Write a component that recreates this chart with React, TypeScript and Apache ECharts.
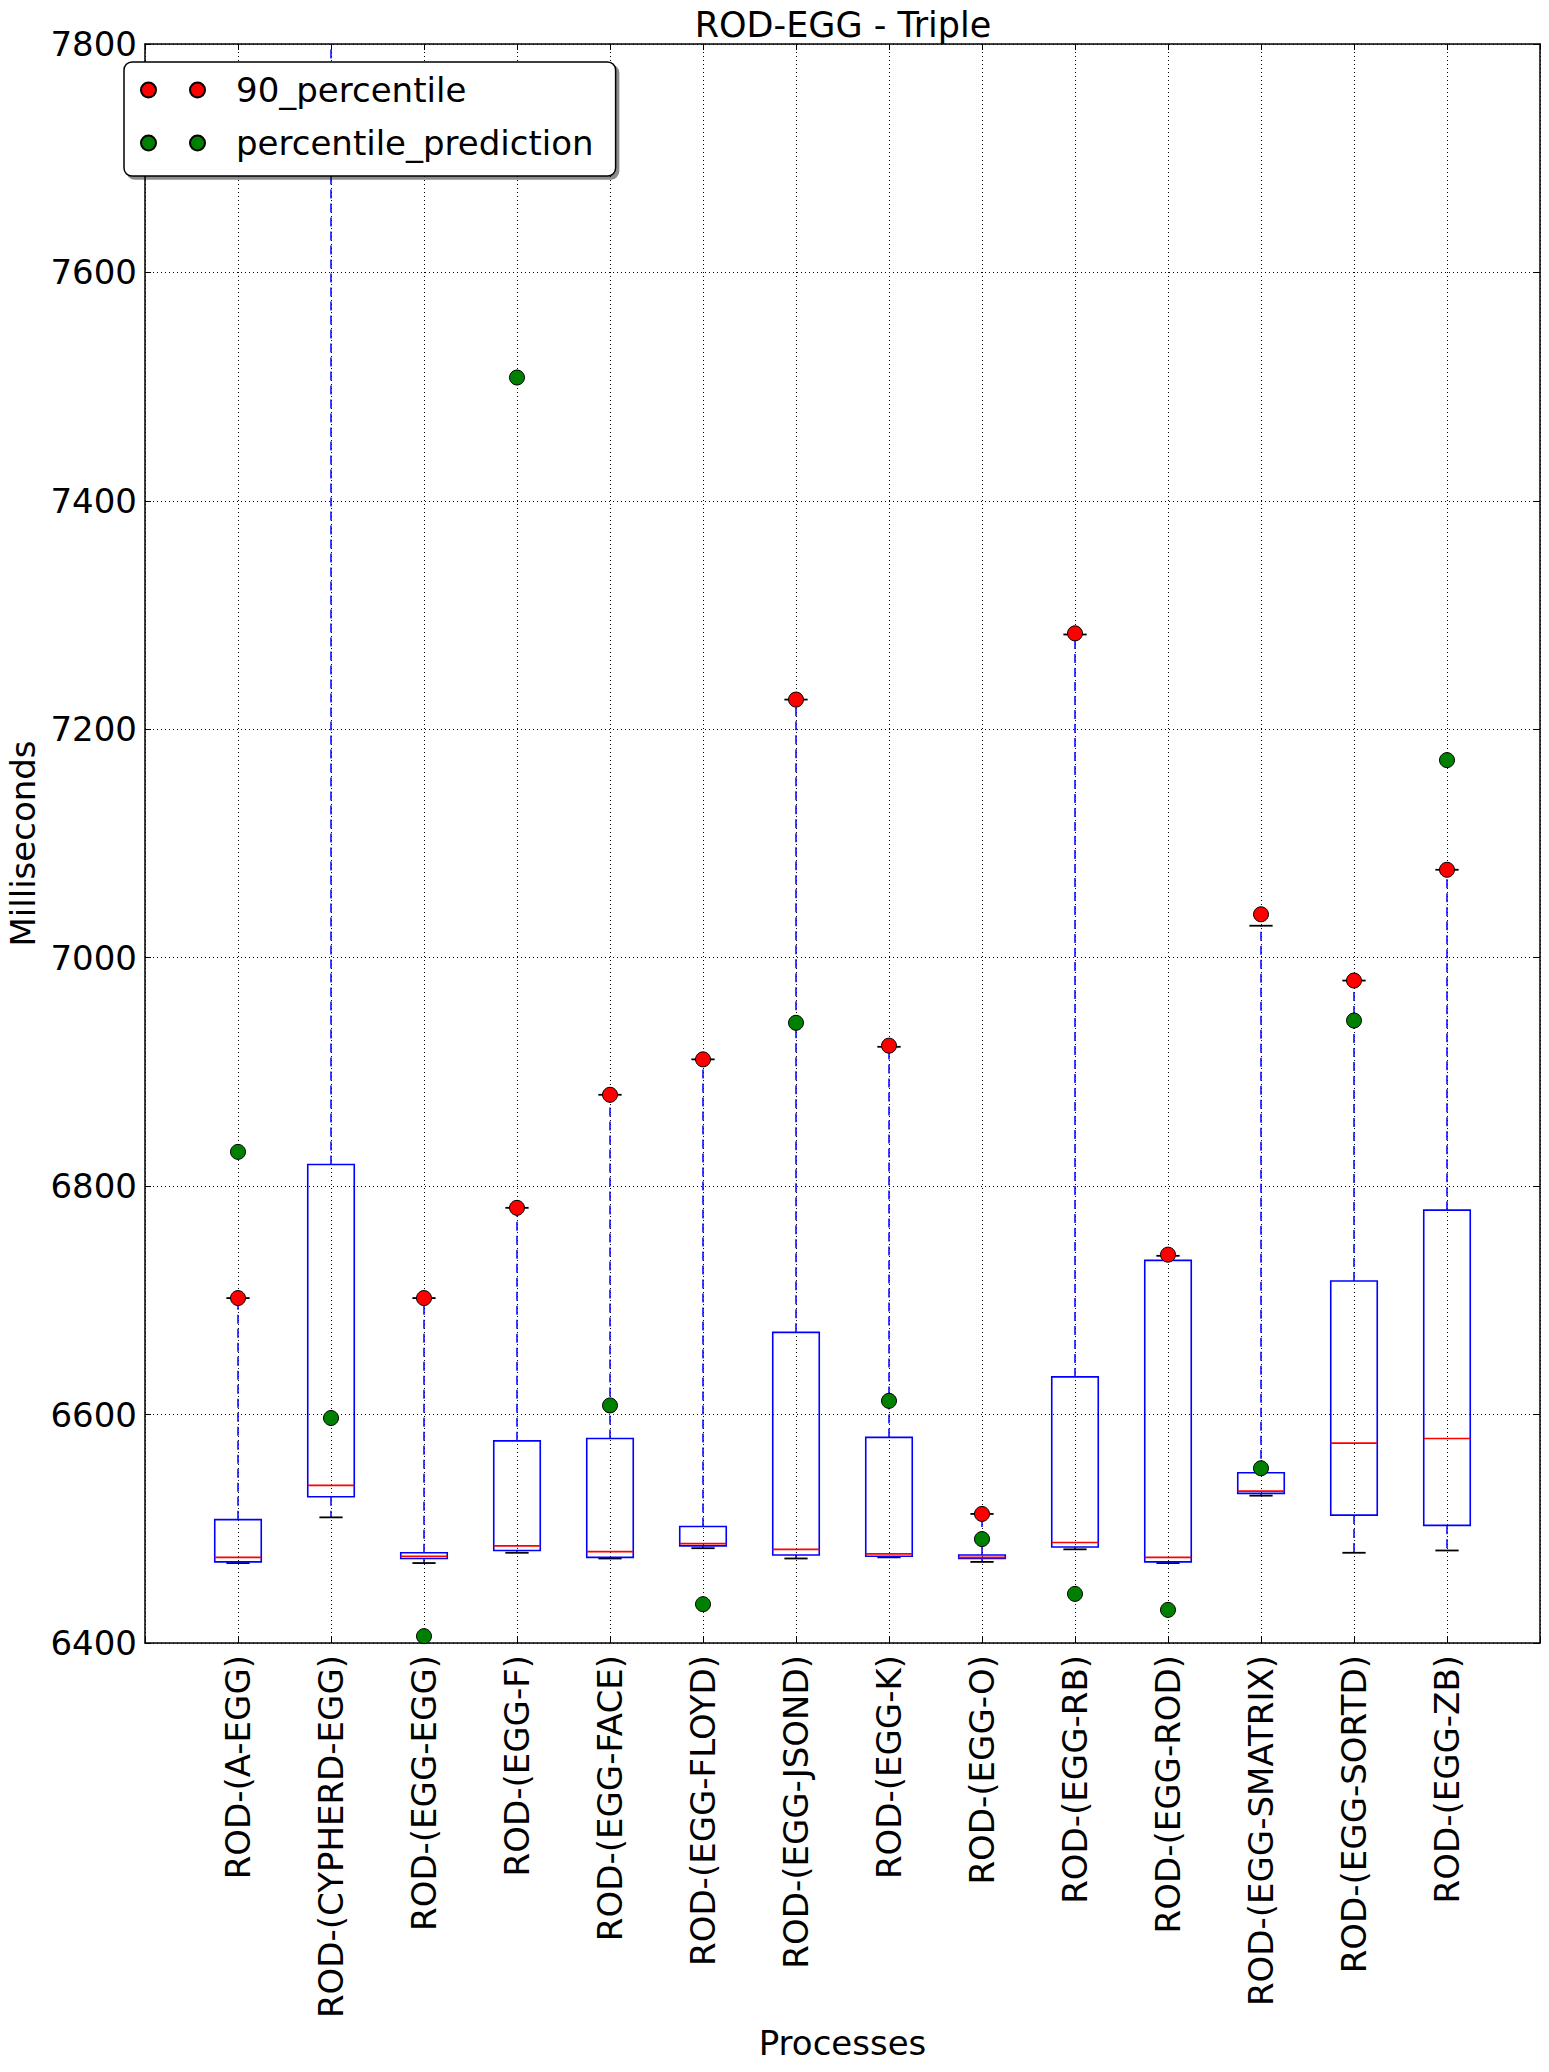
import React, { useEffect, useRef } from "react";
import * as echarts from "echarts";

const categories = [
  "ROD-(A-EGG)",
  "ROD-(CYPHERD-EGG)",
  "ROD-(EGG-EGG)",
  "ROD-(EGG-F)",
  "ROD-(EGG-FACE)",
  "ROD-(EGG-FLOYD)",
  "ROD-(EGG-JSOND)",
  "ROD-(EGG-K)",
  "ROD-(EGG-O)",
  "ROD-(EGG-RB)",
  "ROD-(EGG-ROD)",
  "ROD-(EGG-SMATRIX)",
  "ROD-(EGG-SORTD)",
  "ROD-(EGG-ZB)",
];

const whiskerLow = [6470, 6510, 6470, 6479, 6474, 6483, 6474, 6475, 6471, 6482, 6470, 6529, 6479, 6481];
const quartile1 = [6471, 6528, 6474, 6481, 6475, 6485, 6477, 6476, 6474, 6484, 6471, 6531, 6512, 6503];
const medians = [6475, 6538, 6476, 6485, 6480, 6487, 6482, 6478, 6475, 6488, 6475, 6533, 6575, 6579];
const quartile3 = [6508, 6819, 6479, 6577, 6579, 6502, 6672, 6580, 6477, 6633, 6735, 6549, 6717, 6779];
const whiskerHigh = [6702, 8000, 6702, 6781, 6880, 6911, 7226, 6922, 6513, 7283, 6739, 7028, 6980, 7077];
const percentile90 = [6702, 8000, 6702, 6781, 6880, 6911, 7226, 6923, 6513, 7284, 6740, 7038, 6980, 7077];
const percentilePrediction = [6830, 6597, 6406, 7508, 6608, 6434, 6943, 6612, 6491, 6443, 6429, 6553, 6945, 7173];

const yTicks = { min: 6400, max: 7800, interval: 200 };

const FONT = "DejaVu Sans";

export default function App() {
  const ref = useRef<HTMLDivElement>(null);

  useEffect(() => {
    if (!ref.current) return;
    const chart = echarts.init(ref.current, null, { renderer: "svg" });

    const axisCats = ["", ...categories, ""];
    const boxData = categories.map((_, i) => [
      i + 1,
      whiskerLow[i],
      quartile1[i],
      medians[i],
      quartile3[i],
      whiskerHigh[i],
    ]);
    const p90Data = percentile90.map((v, i) => [i + 1, v]);
    const predData = percentilePrediction.map((v, i) => [i + 1, v]);

    const twoDots =
      "path://M0,7.5A7.5,7.5,0,1,1,15,7.5A7.5,7.5,0,1,1,0,7.5Z M49,7.5A7.5,7.5,0,1,1,64,7.5A7.5,7.5,0,1,1,49,7.5Z";

    const frame = { show: true, lineStyle: { color: "#000", width: 1.5 } };
    const tick = { show: true, inside: true, length: 6, lineStyle: { color: "#000", width: 1 } };
    const grid = { show: true, lineStyle: { color: "#000", width: 1, type: [1, 3] } };

    const option: any = {
      animation: false,
      backgroundColor: "#fff",
      textStyle: { fontFamily: FONT },
      title: {
        text: "ROD-EGG - Triple",
        left: 843,
        top: 7,
        padding: 0,
        textAlign: "center",
        textStyle: { fontFamily: FONT, fontSize: 35, fontWeight: "normal", color: "#000" },
      },
      legend: {
        orient: "vertical",
        left: 124,
        top: 62,
        padding: [8, 22, 13, 16],
        itemGap: 13,
        itemWidth: 64,
        itemHeight: 15,
        backgroundColor: "#fff",
        borderColor: "#000",
        borderWidth: 1.5,
        borderRadius: 8,
        shadowColor: "rgba(0,0,0,0.45)",
        shadowOffsetX: 3,
        shadowOffsetY: 3,
        shadowBlur: 0,
        textStyle: {
          fontFamily: FONT,
          fontSize: 34,
          color: "#000",
          lineHeight: 40,
          padding: [0, 0, 0, 26],
        },
        data: [
          { name: "90_percentile", icon: twoDots },
          { name: "percentile_prediction", icon: twoDots },
        ],
      },
      grid: {
        left: 145,
        top: 44,
        width: 1395,
        height: 1599,
        containLabel: false,
        outerBoundsMode: "none",
      },
      xAxis: [
        {
          type: "category",
          data: axisCats,
          boundaryGap: false,
          position: "bottom",
          axisLine: frame,
          axisTick: { ...tick, interval: 0 },
          splitLine: { ...grid, interval: 0 },
          axisLabel: {
            interval: 0,
            rotate: 90,
            margin: 12,
            fontFamily: FONT,
            fontSize: 34,
            color: "#000",
          },
          name: "Processes",
          nameLocation: "middle",
          nameGap: 383,
          nameTextStyle: { fontFamily: FONT, fontSize: 34, color: "#000" },
        },
        {
          type: "category",
          data: axisCats,
          boundaryGap: false,
          position: "top",
          axisLine: frame,
          axisTick: { ...tick, interval: 0 },
          splitLine: { show: false },
          axisLabel: { show: false },
        },
      ],
      yAxis: [
        {
          type: "value",
          min: yTicks.min,
          max: yTicks.max,
          interval: yTicks.interval,
          position: "left",
          axisLine: frame,
          axisTick: tick,
          splitLine: grid,
          axisLabel: {
            margin: 8,
            fontFamily: FONT,
            fontSize: 34,
            color: "#000",
            formatter: (v: number) => String(v),
          },
          name: "Milliseconds",
          nameLocation: "middle",
          nameRotate: 90,
          nameGap: 75,
          nameTextStyle: { fontFamily: FONT, fontSize: 34, color: "#000" },
        },
        {
          type: "value",
          min: yTicks.min,
          max: yTicks.max,
          interval: yTicks.interval,
          position: "right",
          axisLine: frame,
          axisTick: tick,
          splitLine: { show: false },
          axisLabel: { show: false },
        },
      ],
      series: [
        {
          type: "custom",
          name: "boxes",
          xAxisIndex: 0,
          yAxisIndex: 0,
          clip: true,
          z: 2,
          data: boxData,
          encode: { x: 0, y: [1, 2, 3, 4, 5] },
          renderItem: (params: any, api: any) => {
            const x = api.value(0);
            const lo = api.coord([x, api.value(1)]);
            const q1 = api.coord([x, api.value(2)]);
            const med = api.coord([x, api.value(3)]);
            const q3 = api.coord([x, api.value(4)]);
            const hi = api.coord([x, api.value(5)]);
            const band = api.size([1, 0])[0];
            const bw = band * 0.5;
            const cw = band * 0.25;
            const cx = lo[0];
            const dashed = { stroke: "#0000ff", lineWidth: 1.5, lineDash: [9, 5], fill: null };
            const capStyle = { stroke: "#000", lineWidth: 1.8, fill: null };
            return {
              type: "group",
              children: [
                { type: "line", shape: { x1: cx, y1: q3[1], x2: cx, y2: hi[1] }, style: dashed },
                { type: "line", shape: { x1: cx, y1: q1[1], x2: cx, y2: lo[1] }, style: dashed },
                { type: "line", shape: { x1: cx - cw / 2, y1: hi[1], x2: cx + cw / 2, y2: hi[1] }, style: capStyle },
                { type: "line", shape: { x1: cx - cw / 2, y1: lo[1], x2: cx + cw / 2, y2: lo[1] }, style: capStyle },
                {
                  type: "rect",
                  shape: { x: cx - bw / 2, y: q3[1], width: bw, height: q1[1] - q3[1] },
                  style: { fill: null, stroke: "#0000ff", lineWidth: 1.6 },
                },
                {
                  type: "line",
                  shape: { x1: cx - bw / 2, y1: med[1], x2: cx + bw / 2, y2: med[1] },
                  style: { stroke: "#ff0000", lineWidth: 1.6, fill: null },
                },
              ],
            };
          },
        },
        {
          type: "scatter",
          name: "90_percentile",
          xAxisIndex: 0,
          yAxisIndex: 0,
          clip: true,
          z: 3,
          symbol: "circle",
          symbolSize: 15,
          data: p90Data,
          itemStyle: { color: "#ff0000", borderColor: "#000", borderWidth: 1, opacity: 1 },
        },
        {
          type: "scatter",
          name: "percentile_prediction",
          xAxisIndex: 0,
          yAxisIndex: 0,
          clip: true,
          z: 3,
          symbol: "circle",
          symbolSize: 15,
          data: predData,
          itemStyle: { color: "#008000", borderColor: "#000", borderWidth: 1, opacity: 1 },
        },
      ],
    };

    chart.setOption(option);
    return () => {
      chart.dispose();
    };
  }, []);

  return (
    <div
      ref={ref}
      style={{ position: "absolute", left: 0, top: 0, width: 1549, height: 2072, background: "#fff" }}
    />
  );
}
